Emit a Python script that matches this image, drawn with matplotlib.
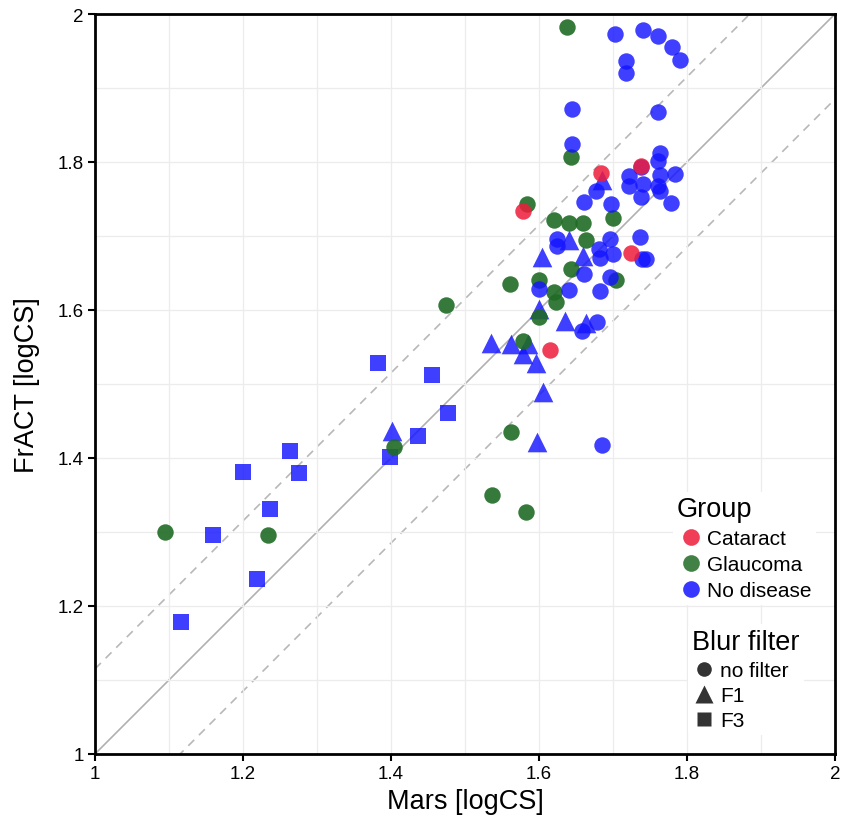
import matplotlib.pyplot as plt
from matplotlib.lines import Line2D
import numpy as np

plt.rcParams['font.family'] = ['Liberation Sans', 'DejaVu Sans']

# dados (Mars x FrACT, logCS)
cataract_x = [1.578, 1.684, 1.738, 1.724, 1.615]
cataract_y = [1.734, 1.785, 1.795, 1.677, 1.546]

glaucoma_x = [1.638, 1.643, 1.584, 1.620, 1.641, 1.660, 1.700, 1.664, 1.643, 1.561,
              1.600, 1.620, 1.623, 1.704, 1.600, 1.579, 1.475, 1.562, 1.537, 1.582,
              1.404, 1.095, 1.234]
glaucoma_y = [1.982, 1.807, 1.743, 1.722, 1.718, 1.718, 1.724, 1.694, 1.655, 1.635,
              1.640, 1.624, 1.611, 1.640, 1.591, 1.558, 1.607, 1.435, 1.350, 1.327,
              1.415, 1.300, 1.296]

nodis_circ_x = [1.703, 1.741, 1.761, 1.780, 1.790, 1.718, 1.717, 1.645, 1.761, 1.644,
                1.763, 1.761, 1.738, 1.722, 1.763, 1.784, 1.741, 1.721, 1.761, 1.764,
                1.738, 1.778, 1.697, 1.677, 1.661, 1.624, 1.625, 1.696, 1.736, 1.681,
                1.700, 1.683, 1.739, 1.744, 1.661, 1.696, 1.641, 1.600, 1.682, 1.678,
                1.658, 1.685]
nodis_circ_y = [1.973, 1.979, 1.970, 1.955, 1.938, 1.936, 1.920, 1.871, 1.868, 1.824,
                1.812, 1.802, 1.793, 1.781, 1.783, 1.784, 1.770, 1.768, 1.768, 1.761,
                1.753, 1.744, 1.743, 1.761, 1.746, 1.696, 1.687, 1.696, 1.698, 1.682,
                1.676, 1.670, 1.669, 1.669, 1.649, 1.644, 1.627, 1.628, 1.625, 1.584,
                1.571, 1.417]

nodis_tri_x = [1.685, 1.641, 1.604, 1.659, 1.600, 1.635, 1.664, 1.535, 1.562, 1.578,
               1.596, 1.585, 1.605, 1.598, 1.402]
nodis_tri_y = [1.775, 1.694, 1.671, 1.673, 1.601, 1.585, 1.582, 1.555, 1.554, 1.541,
               1.529, 1.554, 1.489, 1.421, 1.437]

nodis_sq_x = [1.383, 1.456, 1.477, 1.436, 1.399, 1.263, 1.200, 1.276, 1.237, 1.159,
              1.219, 1.116]
nodis_sq_y = [1.528, 1.512, 1.461, 1.430, 1.401, 1.409, 1.381, 1.380, 1.331, 1.296,
              1.236, 1.178]

red = '#ee1c3c'
green = '#1f6b25'
blue = '#1414ff'

fig = plt.figure(figsize=(8.52, 8.2), dpi=100)
ax = fig.add_axes([0.1115, 0.0793, 0.8685, 0.9024])

# linhas de referencia
lim = np.array([1, 2])
ax.plot(lim, lim, color='#b0b0b0', lw=1.2, zorder=1)
ax.plot(lim, lim + 0.115, color='#b8b8b8', lw=1.2, ls=(0, (5, 4)), zorder=1)
ax.plot(lim, lim - 0.115, color='#b8b8b8', lw=1.2, ls=(0, (5, 4)), zorder=1)

ax.scatter(nodis_sq_x, nodis_sq_y, marker='s', s=128, color=blue, alpha=0.82, lw=0, zorder=3)
ax.scatter(nodis_tri_x, nodis_tri_y, marker='^', s=200, color=blue, alpha=0.82, lw=0, zorder=3)
ax.scatter(glaucoma_x, glaucoma_y, marker='o', s=140, color=green, alpha=0.9, lw=0, zorder=3)
ax.scatter(nodis_circ_x, nodis_circ_y, marker='o', s=140, color=blue, alpha=0.82, lw=0, zorder=3)
ax.scatter(cataract_x, cataract_y, marker='o', s=140, color=red, alpha=0.85, lw=0, zorder=4)

ax.set_xlim(1, 2)
ax.set_ylim(1, 2)
ticks = [1, 1.2, 1.4, 1.6, 1.8, 2]
labels = ['1', '1.2', '1.4', '1.6', '1.8', '2']
ax.set_xticks(ticks, labels)
ax.set_yticks(ticks, labels)
ax.set_xticks(np.arange(1, 2.01, 0.1), minor=True)
ax.set_yticks(np.arange(1, 2.01, 0.1), minor=True)
ax.grid(True, which='both', color='#ececec', lw=0.9, zorder=0)
ax.tick_params(which='minor', length=0)
ax.tick_params(which='major', length=5, width=1.5, labelsize=13.5, pad=3, direction='out')
for s in ax.spines.values():
    s.set_linewidth(2)

ax.set_xlabel('Mars [logCS]', fontsize=19.5, labelpad=4)
ax.set_ylabel('FrACT [logCS]', fontsize=19.5, labelpad=13)

h1 = [Line2D([], [], marker='o', ls='', color=c, alpha=0.85, markersize=12, mec='none')
      for c in (red, green, blue)]
leg1 = ax.legend(h1, ['Cataract', 'Glaucoma', 'No disease'], title='Group',
                 loc='upper left', bbox_to_anchor=(0.781, 0.354), frameon=True,
                 facecolor='white', edgecolor='none', framealpha=1,
                 fontsize=15, title_fontsize=19.5, handletextpad=0.1,
                 handlelength=1.34, labelspacing=0.34, borderpad=0.2,
                 borderaxespad=0)
leg1._legend_box.align = 'left'
ax.add_artist(leg1)

h2 = [Line2D([], [], marker=m, ls='', color='#333333', markersize=ms, mec='none')
      for m, ms in (('o', 10.5), ('^', 13.5), ('s', 10))]
leg2 = ax.legend(h2, ['no filter', 'F1', 'F3'], title='Blur filter',
                 loc='upper left', bbox_to_anchor=(0.801, 0.175), frameon=True,
                 facecolor='white', edgecolor='none', framealpha=1,
                 fontsize=15, title_fontsize=19.5, handletextpad=0.2,
                 handlelength=1.15, labelspacing=0.3, borderpad=0.2,
                 borderaxespad=0)
leg2._legend_box.align = 'left'

fig.savefig('out.png', dpi=100)
